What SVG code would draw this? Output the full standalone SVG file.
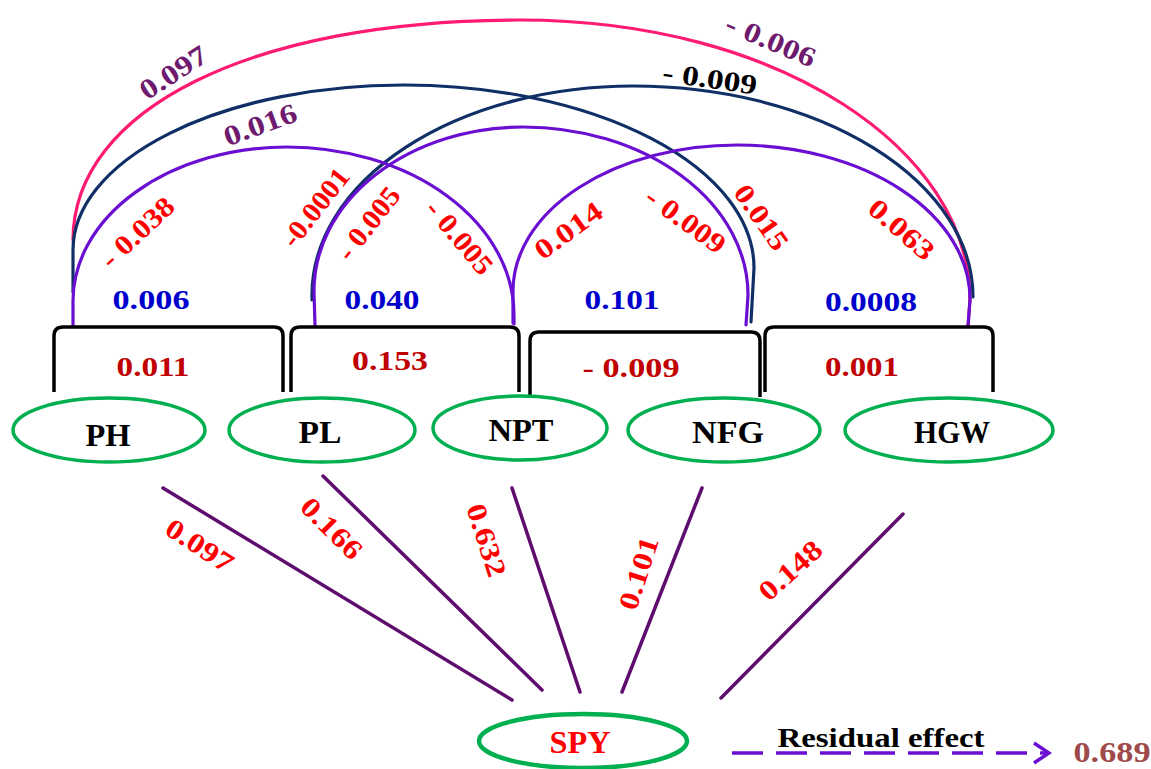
<svg xmlns="http://www.w3.org/2000/svg" width="1151" height="769" viewBox="0 0 1151 769">
  <style>
    text { font-family: "Liberation Serif", "Times New Roman", serif; font-weight: bold; text-anchor: middle; }
    .node { fill: none; stroke: #00b050; stroke-width: 3.5; }
    .nlab { font-size: 31px; fill: #000; }
    .brk { fill: none; stroke: #000; stroke-width: 3.5; stroke-linejoin: round; }
    .arc { fill: none; stroke-width: 3.2; stroke-linecap: round; }
    .pur { stroke: #6a0fd2; }
    .navy { stroke: #0f2f66; }
    .pink { stroke: #ff1a72; }
    .path { stroke: #5e0c6e; stroke-width: 3.5; stroke-linecap: round; }
    .lab { font-size: 28px; }
    .red { fill: #ff0000; }
    .dred { fill: #c00000; }
    .blue { fill: #0000cc; }
    .plum { fill: #6e1a6e; }
    .blk { fill: #000; }
  </style>
  <defs>
    <marker id="chev" markerWidth="20" markerHeight="24" refX="17" refY="12" orient="auto" markerUnits="userSpaceOnUse">
      <path d="M 2 2 L 17 12 L 2 22" fill="none" stroke="#6a0fd2" stroke-width="3.5"/>
    </marker>
  </defs>

  <!-- correlation arcs and path lines -->
  <g id="connectors">
    <!-- outer arc PH-HGW -->
    <path class="arc pink" d="M 73 240 C 73 110 250 20 520 20 C 780 20 970 150 970 300 L 968 326"/>
    <!-- arcs PH-NFG and PL-HGW -->
    <path class="arc navy" d="M 73 292 L 73 250 A 330 165 0 0 1 403 85 A 350 183 0 0 1 754 268 L 751 322"/>
    <path class="arc navy" d="M 312 300 L 312 295 A 321 209 0 0 1 633 86 A 340 211 0 0 1 973 297"/>
    <!-- arcs PH-NPT, PL-NFG, NPT-HGW -->
    <path class="arc pur" d="M 73 325 L 73 301 A 214 154 0 0 1 287 147 A 227 168 0 0 1 514 315 L 514 324"/>
    <path class="arc pur" d="M 315 326 L 314 291 A 209 164 0 0 1 523 127 A 225 168 0 0 1 748 295 L 746 325"/>
    <path class="arc pur" d="M 513 323 L 513 291 A 224 146 0 0 1 737 145 A 233 154 0 0 1 970 299 L 968 327"/>

    <!-- brackets between neighbouring traits -->
    <path class="brk" d="M 54 392 L 54 336 Q 54 327 63 327 L 274 327 Q 283 327 283 336 L 283 392"/>
    <path class="brk" d="M 291 392 L 291 336 Q 291 327 300 327 L 510 327 Q 519 327 519 336 L 519 392"/>
    <path class="brk" d="M 530 397 L 530 341 Q 530 332 539 332 L 751 332 Q 760 332 760 341 L 760 397"/>
    <path class="brk" d="M 765 392 L 765 336 Q 765 327 774 327 L 984 327 Q 993 327 993 336 L 993 392"/>

    <!-- direct paths to SPY -->
    <line class="path" x1="163" y1="488" x2="512" y2="700"/>
    <line class="path" x1="323" y1="476" x2="542" y2="690" stroke-width="2.5"/>
    <line class="path" x1="512" y1="488" x2="580" y2="692"/>
    <line class="path" x1="702" y1="488" x2="622" y2="692"/>
    <line class="path" x1="903" y1="514" x2="721" y2="698"/>

    <!-- residual effect arrow -->
    <line x1="732" y1="753" x2="1049" y2="753" stroke="#6a0fd2" stroke-width="3.5" stroke-dasharray="31 13" marker-end="url(#chev)"/>
  </g>

  <!-- arc coefficients -->
  <g id="arc-labels" class="lab">
    <text class="plum" transform="translate(173 72) rotate(-33)" y="10" textLength="75" lengthAdjust="spacingAndGlyphs">0.097</text>
    <text class="plum" transform="translate(260 124) rotate(-20)" y="10" textLength="76" lengthAdjust="spacingAndGlyphs">0.016</text>
    <text class="red" transform="translate(137 232) rotate(-43)" y="10" textLength="90" lengthAdjust="spacingAndGlyphs">- 0.038</text>
    <text class="red" transform="translate(315 207) rotate(-52)" y="10" textLength="92" lengthAdjust="spacingAndGlyphs">-0.0001</text>
    <text class="red" transform="translate(368 223) rotate(-52)" y="10" textLength="85" lengthAdjust="spacingAndGlyphs">- 0.005</text>
    <text class="red" transform="translate(460 237) rotate(50)" y="10" textLength="88" lengthAdjust="spacingAndGlyphs">- 0.005</text>
    <text class="red" transform="translate(568 230) rotate(-36)" y="10" textLength="77" lengthAdjust="spacingAndGlyphs">0.014</text>
    <text class="red" transform="translate(686 220) rotate(36)" y="10" textLength="92" lengthAdjust="spacingAndGlyphs">- 0.009</text>
    <text class="red" transform="translate(762 217) rotate(55)" y="10" textLength="74" lengthAdjust="spacingAndGlyphs">0.015</text>
    <text class="red" transform="translate(902 229) rotate(41)" y="10" textLength="78" lengthAdjust="spacingAndGlyphs">0.063</text>
    <text class="plum" transform="translate(771 40) rotate(23)" y="10" textLength="95" lengthAdjust="spacingAndGlyphs">- 0.006</text>
    <text class="blk" transform="translate(710 78) rotate(8)" y="10" textLength="95" lengthAdjust="spacingAndGlyphs">- 0.009</text>

    <!-- values above brackets -->
    <text class="blue" x="151" y="309" textLength="77" lengthAdjust="spacingAndGlyphs">0.006</text>
    <text class="blue" x="382" y="309" textLength="75" lengthAdjust="spacingAndGlyphs">0.040</text>
    <text class="blue" x="622" y="309" textLength="75" lengthAdjust="spacingAndGlyphs">0.101</text>
    <text class="blue" x="871" y="311" textLength="92" lengthAdjust="spacingAndGlyphs">0.0008</text>

    <!-- values inside brackets -->
    <text class="dred" x="153" y="376" textLength="73" lengthAdjust="spacingAndGlyphs">0.011</text>
    <text class="dred" x="390" y="370" textLength="76" lengthAdjust="spacingAndGlyphs">0.153</text>
    <text class="dred" x="631" y="377" textLength="97" lengthAdjust="spacingAndGlyphs">- 0.009</text>
    <text class="dred" x="862" y="376" textLength="74" lengthAdjust="spacingAndGlyphs">0.001</text>

    <!-- direct effects on SPY -->
    <text class="red" transform="translate(200 545) rotate(33)" y="10" textLength="75" lengthAdjust="spacingAndGlyphs">0.097</text>
    <text class="red" transform="translate(332 528) rotate(45)" y="10" textLength="75" lengthAdjust="spacingAndGlyphs">0.166</text>
    <text class="red" transform="translate(487 540) rotate(72)" y="10" textLength="75" lengthAdjust="spacingAndGlyphs">0.632</text>
    <text class="red" transform="translate(638 573) rotate(-72)" y="10" textLength="75" lengthAdjust="spacingAndGlyphs">0.101</text>
    <text class="red" transform="translate(790 570) rotate(-42)" y="10" textLength="75" lengthAdjust="spacingAndGlyphs">0.148</text>
  </g>

  <!-- trait nodes -->
  <g id="PH">
    <ellipse class="node" cx="109" cy="430" rx="96" ry="32"/>
    <text class="nlab" x="108" y="446" textLength="45" lengthAdjust="spacingAndGlyphs">PH</text>
  </g>
  <g id="PL">
    <ellipse class="node" cx="322" cy="430" rx="93" ry="32"/>
    <text class="nlab" x="320" y="443" textLength="43" lengthAdjust="spacingAndGlyphs">PL</text>
  </g>
  <g id="NPT">
    <ellipse class="node" cx="520" cy="428" rx="87" ry="32"/>
    <text class="nlab" x="521" y="441" textLength="65" lengthAdjust="spacingAndGlyphs">NPT</text>
  </g>
  <g id="NFG">
    <ellipse class="node" cx="724" cy="430" rx="96" ry="32"/>
    <text class="nlab" x="728" y="443" textLength="72" lengthAdjust="spacingAndGlyphs">NFG</text>
  </g>
  <g id="HGW">
    <ellipse class="node" cx="949" cy="430" rx="104" ry="32"/>
    <text class="nlab" x="952" y="443" textLength="76" lengthAdjust="spacingAndGlyphs">HGW</text>
  </g>
  <g id="SPY">
    <ellipse cx="583" cy="741" rx="104" ry="27" fill="none" stroke="#00b050" stroke-width="4.5"/>
    <text class="nlab" x="580" y="753" style="fill:#ff0000" textLength="61" lengthAdjust="spacingAndGlyphs">SPY</text>
  </g>

  <!-- residual effect -->
  <g id="residual">
    <text x="881" y="747" font-size="28" fill="#000" textLength="207" lengthAdjust="spacingAndGlyphs">Residual effect</text>
    <text x="1112" y="762" font-size="29" fill="#9e4a4a" textLength="77" lengthAdjust="spacingAndGlyphs">0.689</text>
  </g>
</svg>
